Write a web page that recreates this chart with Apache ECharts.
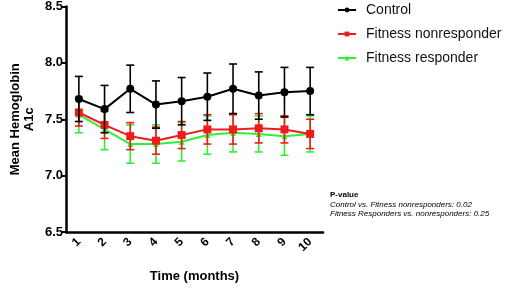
<!DOCTYPE html>
<html>
<head>
<meta charset="utf-8">
<script src="https://cdn.jsdelivr.net/npm/echarts@6/dist/echarts.min.js"></script>
<style>
html, body { margin: 0; padding: 0; background: #fff; }
#main { width: 520px; height: 288px; }
</style>
</head>
<body>
<div id="main"></div>
<script>
var months = ['1', '2', '3', '4', '5', '6', '7', '8', '9', '10']
var yTicks = [6.5, 7.0, 7.5, 8.0, 8.5]

// 平均值
var controlMean = [7.68, 7.59, 7.77, 7.63, 7.66, 7.70, 7.77, 7.71, 7.74, 7.75]
var nonRespMean = [7.56, 7.45, 7.35, 7.31, 7.36, 7.41, 7.41, 7.42, 7.41, 7.37]
var respMean = [7.54, 7.41, 7.28, 7.28, 7.30, 7.36, 7.38, 7.37, 7.35, 7.37]

// 误差 (±)
var controlErr = [0.20, 0.21, 0.21, 0.21, 0.21, 0.21, 0.22, 0.21, 0.22, 0.21]
var nonRespErr = [0.12, 0.12, 0.12, 0.12, 0.12, 0.13, 0.13, 0.13, 0.12, 0.13]
var respErr = [0.16, 0.18, 0.17, 0.17, 0.17, 0.17, 0.17, 0.16, 0.17, 0.16]

var chart = echarts.init(document.getElementById('main'))

function errData(mean, err) {
    var out = []
    for (var i = 0; i < mean.length; i++) {
        out.push([i, mean[i] - err[i], mean[i] + err[i]])
    }
    return out
}

function errSeries(name, mean, err, color, z) {
    return {
        name: name + ' err',
        type: 'custom',
        z: z,
        data: errData(mean, err),
        renderItem: function (params, api) {
            var lo = api.coord([api.value(0), api.value(1)])
            var hi = api.coord([api.value(0), api.value(2)])
            var hw = 4
            var st = { stroke: color, lineWidth: 1.6 }
            return {
                type: 'group',
                children: [
                    { type: 'line', shape: { x1: hi[0], y1: hi[1], x2: lo[0], y2: lo[1] }, style: st },
                    { type: 'line', shape: { x1: hi[0] - hw, y1: hi[1], x2: hi[0] + hw, y2: hi[1] }, style: st },
                    { type: 'line', shape: { x1: lo[0] - hw, y1: lo[1], x2: lo[0] + hw, y2: lo[1] }, style: st }
                ]
            }
        }
    }
}

var option = {
    animation: false,
    grid: { left: 66, right: 197, top: 6, bottom: 51 },
    legend: {
        data: ['Control', 'Fitness nonresponder', 'Fitness responder'],
        orient: 'vertical',
        left: 332,
        top: -2,
        itemWidth: 18,
        itemHeight: 6,
        itemGap: 10,
        textStyle: { fontFamily: 'Liberation Sans', fontSize: 14, color: '#111', padding: [0, 0, 0, 5] }
    },
    xAxis: {
        type: 'category',
        data: months,
        name: 'Time (months)',
        nameLocation: 'middle',
        nameGap: 38,
        nameTextStyle: { fontFamily: 'Liberation Sans', fontWeight: 'bold', fontSize: 13, color: '#000' },
        axisLine: { lineStyle: { color: '#000', width: 2.5 } },
        axisTick: { alignWithLabel: true, length: 4, lineStyle: { color: '#000', width: 2 } },
        axisLabel: {
            rotate: 45, margin: 8,
            fontFamily: 'Liberation Sans', fontWeight: 'bold', fontSize: 12, color: '#000'
        }
    },
    yAxis: {
        type: 'value',
        min: 6.5,
        max: 8.5,
        interval: 0.5,
        name: 'Mean Hemoglobin\nA1c',
        nameLocation: 'middle',
        nameGap: 30,
        nameTextStyle: { fontFamily: 'Liberation Sans', fontWeight: 'bold', fontSize: 13, color: '#000', lineHeight: 14 },
        splitLine: { show: false },
        axisLine: { show: true, lineStyle: { color: '#000', width: 2.5 } },
        axisTick: { show: true, length: 4, lineStyle: { color: '#000', width: 2 } },
        axisLabel: {
            margin: 3,
            fontFamily: 'Liberation Sans', fontWeight: 'bold', fontSize: 13, color: '#000',
            formatter: function (v) { return yTicks.indexOf(v) >= 0 ? v.toFixed(1) : '' }
        }
    },
    graphic: [
        {
            type: 'text', left: 330, top: 191,
            style: { text: 'P-value', font: 'bold 8px Liberation Sans', fill: '#000' }
        },
        {
            type: 'text', left: 330, top: 201,
            style: {
                text: 'Control vs. Fitness nonresponders: 0.02\nFitness Responders vs. nonresponders: 0.25',
                font: 'italic 8px Liberation Sans', fill: '#000', lineHeight: 8.5
            }
        }
    ],
    series: [
        errSeries('Fitness responder', respMean, respErr, '#33ee33', 1),
        errSeries('Fitness nonresponder', nonRespMean, nonRespErr, '#ee1c1c', 3),
        errSeries('Control', controlMean, controlErr, '#000', 5),
        {
            name: 'Fitness responder', type: 'line', data: respMean, z: 2,
            symbol: 'triangle', symbolSize: 6,
            lineStyle: { color: '#33ee33', width: 2 },
            itemStyle: { color: '#33ee33' }
        },
        {
            name: 'Fitness nonresponder', type: 'line', data: nonRespMean, z: 4,
            symbol: 'rect', symbolSize: 8,
            lineStyle: { color: '#ee1c1c', width: 2 },
            itemStyle: { color: '#ee1c1c' }
        },
        {
            name: 'Control', type: 'line', data: controlMean, z: 6,
            symbol: 'circle', symbolSize: 8,
            lineStyle: { color: '#000', width: 2 },
            itemStyle: { color: '#000' }
        }
    ]
}

chart.setOption(option)
</script>
</body>
</html>
